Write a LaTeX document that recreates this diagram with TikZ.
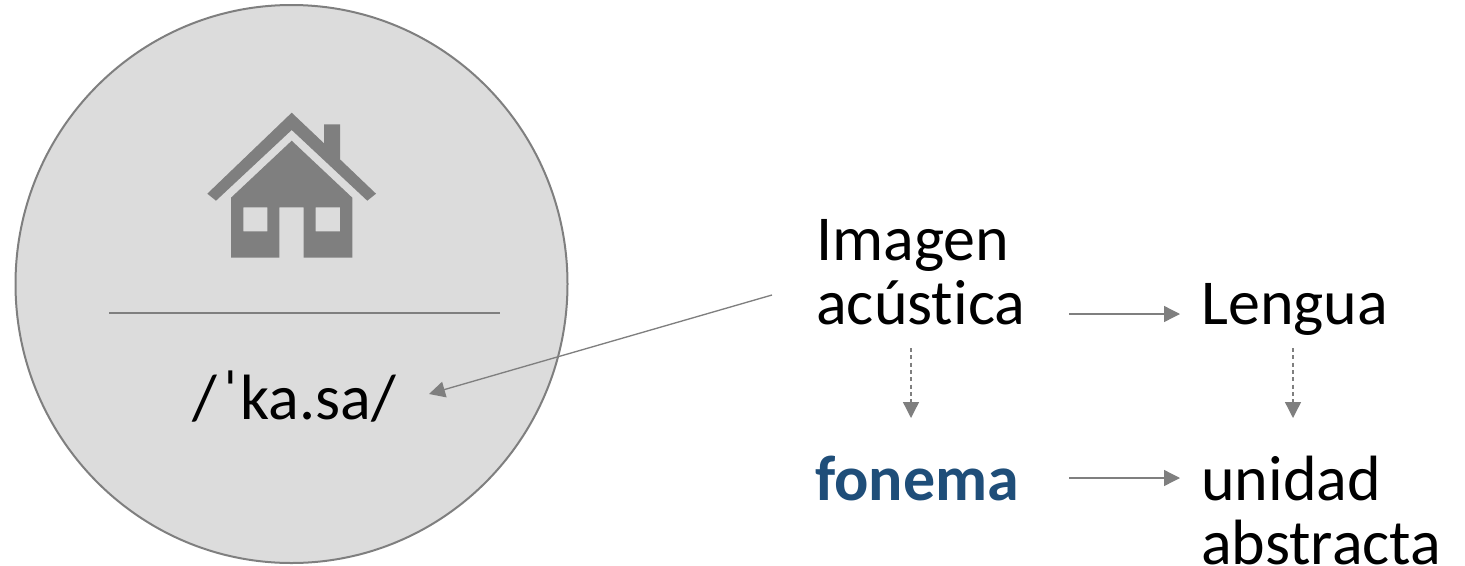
\documentclass[tikz,border=0pt]{standalone}
\usepackage{fontspec}
\setmainfont{Carlito}[Ligatures=NoCommon]
\usetikzlibrary{arrows.meta}
\definecolor{gris}{RGB}{127,127,127}
\definecolor{relleno}{RGB}{220,220,220}
\definecolor{azul}{RGB}{31,78,121}
\tikzset{
  etiqueta/.style={anchor=base west,inner sep=0pt,align=left,font=\fontsize{48}{48}\selectfont},
  flecha/.style={draw=gris,line width=1pt,-{Triangle[length=12pt,width=12pt,fill=gris]}},
  flechapunt/.style={flecha,dashed,dash pattern=on 3pt off 2.5pt}
}
\begin{document}
\begin{tikzpicture}[x=0.75pt,y=0.75pt,yscale=-1,xscale=1]
\useasboundingbox (0,0) rectangle (1465,565);

% Circle
\draw [draw=gris,fill=relleno,line width=1.5pt] (291.5,284) ellipse (276 and 279);
% House
\fill [gris] (291.7,112.7) -- (324,143.3) -- (324,124.3) -- (340,124.3) -- (340,159.3) -- (376,193.7) -- (367.3,200.7) -- (291.7,130) -- (216,200.7) -- (207.3,193.7) -- cycle;
\fill [gris,even odd rule] (291.7,140.7) -- (352.3,197.7) -- (352.3,257.7) -- (303.7,257.7) -- (303.7,207.3) -- (279.3,207.3) -- (279.3,257.7) -- (231,257.7) -- (231,197.7) -- cycle
  (243.3,207.3) rectangle (267.3,231.3) (315.7,207.3) rectangle (340,231.3);
% Divider
\draw [draw=gris,line width=1pt] (109,313) -- (500,313);

% Text Node
\node (kasa) [etiqueta] at (192,419) {/\kern3.75pt\char"02C8 ka.sa/};
% Text Node
\node (imagen) [etiqueta] at (816,324.5) {Imagen\\acústica};
% Text Node
\node (lengua) [etiqueta] at (1201,324.5) {Lengua};
% Text Node
\node (fonema) [etiqueta,text=azul,font=\fontsize{48}{48}\selectfont\bfseries] at (815,500) {fonema};
% Text Node
\node (unidad) [etiqueta] at (1201,564) {unidad\\abstracta};

% Connector ends
\coordinate (imagenizq) at (772,295);
\coordinate (kasader) at (429,394);
\coordinate (imagender) at (1069,314);
\coordinate (lenguaizq) at (1180,314);
\coordinate (fonemader) at (1069,478);
\coordinate (unidadizq) at (1180,478);
\coordinate (imagenbajo) at (911,348);
\coordinate (fonemaalto) at (911,418);
\coordinate (lenguabajo) at (1293,348);
\coordinate (unidadalto) at (1293,418);

\draw [flecha] (imagenizq) -- (kasader);
\draw [flecha] (imagender) -- (lenguaizq);
\draw [flecha] (fonemader) -- (unidadizq);
\draw [flechapunt] (imagenbajo) -- (fonemaalto);
\draw [flechapunt] (lenguabajo) -- (unidadalto);

\end{tikzpicture}
\end{document}
